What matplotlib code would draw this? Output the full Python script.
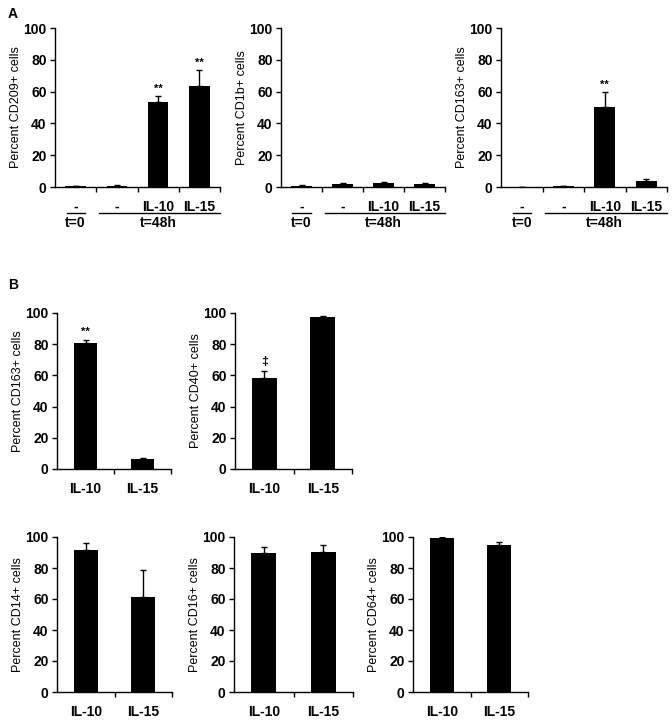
import matplotlib.pyplot as plt
from matplotlib.transforms import blended_transform_factory

plt.rcParams['font.family'] = ['Liberation Sans', 'DejaVu Sans']

# panel A: t=0 control, then t=48h without / with IL-10 / IL-15
a_labels = ["-", "-", "IL-10", "IL-15"]
cd209 = [0.5, 0.8, 53.5, 63.5]
cd209_err = [0.2, 0.2, 3.5, 10.0]
cd1b = [0.8, 2.0, 2.6, 2.1]
cd1b_err = [0.4, 0.8, 0.8, 0.7]
cd163_a = [0.2, 0.7, 50.2, 3.6]
cd163_a_err = [0.1, 0.2, 9.5, 1.6]
a_stars = [["", "", "**", "**"], ["", "", "", ""], ["", "", "**", ""]]

# panel B: IL-10 vs IL-15
b_labels = ["IL-10", "IL-15"]
cd163_b = [81.0, 6.5]
cd163_b_err = [2.0, 0.8]
cd40 = [58.5, 97.5]
cd40_err = [4.5, 0.8]
cd14 = [91.5, 61.5]
cd14_err = [4.5, 17.0]
cd16 = [90.0, 90.5]
cd16_err = [3.5, 4.5]
cd64 = [99.5, 95.0]
cd64_err = [0.3, 1.5]
b_marks = [["**", ""], ["\u2021", ""], ["", ""], ["", ""], ["", ""]]

W, H = 672, 722
fig = plt.figure(figsize=(W / 100, H / 100), dpi=100)


def make_ax(x0, x1, ytop, ybot):
    return fig.add_axes([x0 / W, 1 - ybot / H, (x1 - x0) / W, (ybot - ytop) / H])


def bar_panel(ax, vals, errs, ylabel, width, marks):
    n = len(vals)
    xs = list(range(n))
    ax.bar(xs, vals, width=width, color="black", zorder=2)
    ax.errorbar(xs, vals, yerr=[[0] * n, errs], fmt="none", ecolor="black",
                elinewidth=1.0, capsize=2.5, capthick=1.0, zorder=3)
    for x, v, e, m in zip(xs, vals, errs, marks):
        if m:
            ax.text(x, v + e + 1.5, m, ha="center", va="bottom",
                    fontsize=9 if m == "\u2021" else 8, fontweight="bold")
    ax.set_xlim(-0.5, n - 0.5)
    ax.set_ylim(0, 100)
    ax.set_yticks([0, 20, 40, 60, 80, 100])
    ax.set_xticks([i + 0.5 for i in range(n)])
    ax.set_xticklabels([])
    ax.tick_params(axis="both", direction="out", length=3.5, width=1.0,
                   labelsize=10, pad=2.5)
    for lab in ax.get_yticklabels():
        lab.set_fontweight("bold")
    for s in ["top", "right"]:
        ax.spines[s].set_visible(False)
    for s in ["left", "bottom"]:
        ax.spines[s].set_linewidth(1.0)
    ax.set_ylabel(ylabel, fontsize=9, labelpad=1)


def cat_labels(ax, labels, y_px):
    tr = blended_transform_factory(ax.transData, ax.transAxes)
    h = ax.get_position().height * H
    for i, lab in enumerate(labels):
        ax.text(i, -y_px / h, lab, transform=tr, ha="center", va="center",
                fontsize=10, fontweight="bold")


def group_labels(ax):
    tr = blended_transform_factory(ax.transData, ax.transAxes)
    h = ax.get_position().height * H
    yl = -26 / h
    ax.plot([-0.22, 0.23], [yl, yl], transform=tr, color="black", lw=1.0,
            clip_on=False)
    ax.plot([0.57, 3.5], [yl, yl], transform=tr, color="black", lw=1.0,
            clip_on=False)
    ax.text(0, -36 / h, "t=0", transform=tr, ha="center", va="center",
            fontsize=10, fontweight="bold")
    ax.text(2, -36 / h, "t=48h", transform=tr, ha="center", va="center",
            fontsize=10, fontweight="bold")


a_sets = [(cd209, cd209_err, "Percent CD209+ cells", 55, 220),
          (cd1b, cd1b_err, "Percent CD1b+ cells", 281, 445),
          (cd163_a, cd163_a_err, "Percent CD163+ cells", 501, 667)]
for k, (v, e, lab, x0, x1) in enumerate(a_sets):
    ax = make_ax(x0, x1, 28, 187)
    bar_panel(ax, v, e, lab, 0.5, a_stars[k])
    cat_labels(ax, a_labels, 20)
    group_labels(ax)

b_sets = [(cd163_b, cd163_b_err, "Percent CD163+ cells", 57, 171, 313, 469),
          (cd40, cd40_err, "Percent CD40+ cells", 235, 352, 313, 469),
          (cd14, cd14_err, "Percent CD14+ cells", 57, 172, 537, 692),
          (cd16, cd16_err, "Percent CD16+ cells", 234, 353, 537, 692),
          (cd64, cd64_err, "Percent CD64+ cells", 413, 528, 537, 692)]
for k, (v, e, lab, x0, x1, yt, yb) in enumerate(b_sets):
    ax = make_ax(x0, x1, yt, yb)
    bar_panel(ax, v, e, lab, 0.42, b_marks[k])
    cat_labels(ax, b_labels, 20)

fig.text(8 / W, 1 - 14 / H, "A", fontsize=10, fontweight="bold", va="center")
fig.text(8 / W, 1 - 285 / H, "B", fontsize=10, fontweight="bold", va="center")

fig.savefig("out.png", dpi=100)
